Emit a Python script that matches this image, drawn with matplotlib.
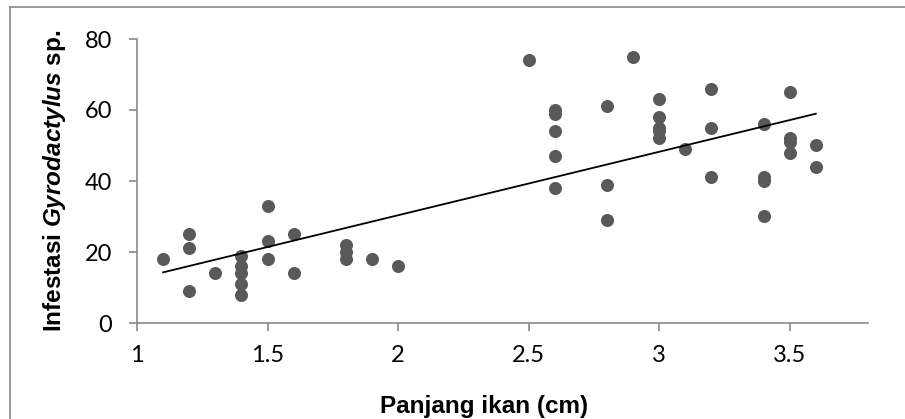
import matplotlib
matplotlib.use('Agg')
import matplotlib.pyplot as plt
import numpy as np
from matplotlib.lines import Line2D

# data
panjang = [1.1,
           1.2, 1.2, 1.2,
           1.3,
           1.4, 1.4, 1.4, 1.4, 1.4,
           1.5, 1.5, 1.5,
           1.6, 1.6,
           1.8, 1.8, 1.8,
           1.9,
           2.0,
           2.5,
           2.6, 2.6, 2.6, 2.6, 2.6,
           2.8, 2.8, 2.8,
           2.9,
           3.0, 3.0, 3.0, 3.0, 3.0,
           3.1,
           3.2, 3.2, 3.2,
           3.4, 3.4, 3.4, 3.4,
           3.5, 3.5, 3.5, 3.5,
           3.6, 3.6]
infestasi = [18,
             25, 21, 9,
             14,
             19, 16, 14, 11, 8,
             33, 23, 18,
             25, 14,
             22, 20, 18,
             18,
             16,
             74,
             60, 59, 54, 47, 38,
             61, 39, 29,
             75,
             63, 58, 55, 54, 52,
             49,
             66, 55, 41,
             56, 41, 40, 30,
             65, 52, 51, 48,
             50, 44]
xticks = [1, 1.5, 2, 2.5, 3, 3.5]
xticklabels = ['1', '1.5', '2', '2.5', '3', '3.5']
yticks = [0, 20, 40, 60, 80]

plt.rcParams['mathtext.fontset'] = 'custom'
plt.rcParams['mathtext.it'] = 'Liberation Sans:italic:bold'
plt.rcParams['mathtext.rm'] = 'Liberation Sans:bold'

grey = '#898989'

fig = plt.figure(figsize=(9.05, 4.19), dpi=100)
ax = fig.add_axes([137 / 905, 1 - 323 / 419, (868 - 137) / 905, (323 - 39) / 419])

ax.scatter(panjang, infestasi, s=88, color='#595959', zorder=3, linewidths=0)

# linear trendline over the data range
coef = np.polyfit(panjang, infestasi, 1)
xs = np.array([min(panjang), max(panjang)])
ax.plot(xs, np.polyval(coef, xs), color='black', lw=1.3, zorder=4)

ax.set_xlim(1, 3.8)
ax.set_ylim(0, 80)
ax.set_xticks(xticks)
ax.set_xticklabels(xticklabels)
ax.set_yticks(yticks)

for s in ['top', 'right']:
    ax.spines[s].set_visible(False)
for s in ['left', 'bottom']:
    ax.spines[s].set_color(grey)
    ax.spines[s].set_linewidth(1.2)

ax.tick_params(axis='both', direction='out', length=6, width=1.2, color=grey,
               labelsize=17, labelfontfamily='Lato')
ax.tick_params(axis='x', pad=10)
ax.tick_params(axis='y', pad=12)

ax.set_xlabel('Panjang ikan (cm)', fontsize=17.5, fontweight='bold', family='Liberation Sans')
ax.xaxis.set_label_coords(0.475, -0.255)
ax.set_ylabel(r'Infestasi $\it{Gyrodactylus}$ sp.', fontsize=17.5, fontweight='bold',
              family='Liberation Sans')
ax.yaxis.set_label_coords(-0.095, 0.5)

# outer chart border (cropped at right and bottom)
fig.add_artist(Line2D([10 / 905, 1], [1 - 7 / 419, 1 - 7 / 419], color=grey, lw=1.2,
                      transform=fig.transFigure))
fig.add_artist(Line2D([10 / 905, 10 / 905], [0, 1 - 7 / 419], color=grey, lw=1.2,
                      transform=fig.transFigure))

fig.savefig('out.png', dpi=100)
